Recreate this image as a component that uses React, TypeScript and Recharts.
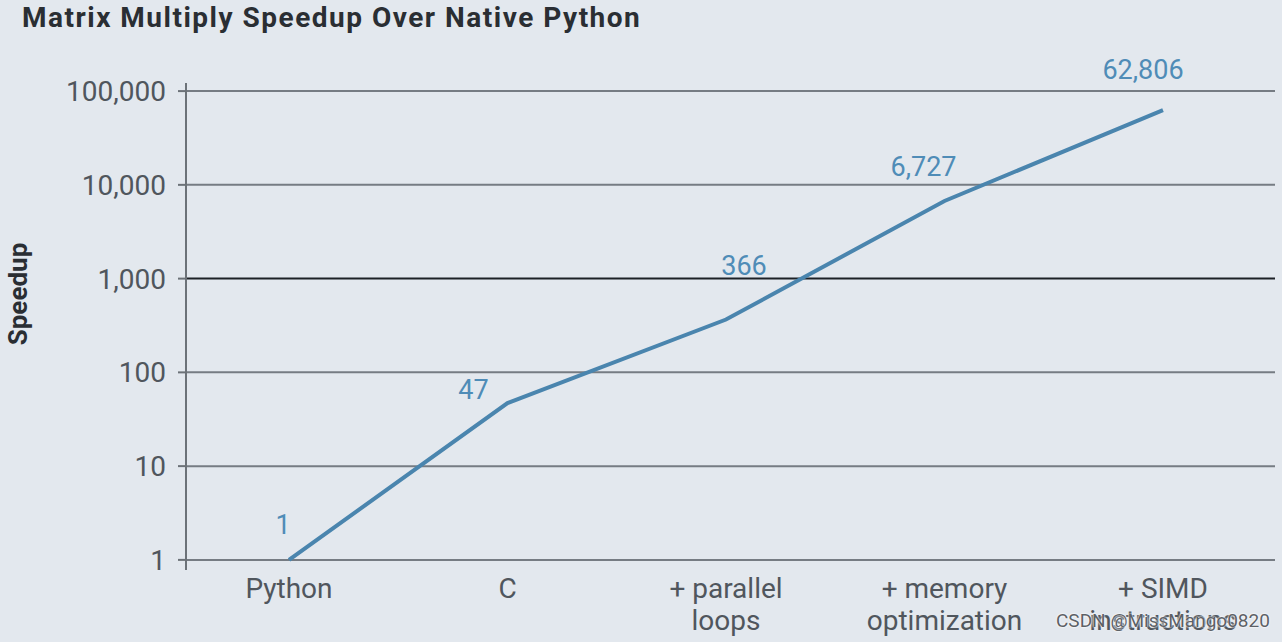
import { LabelList, Line, LineChart, ReferenceLine, XAxis, YAxis } from "recharts";

const categories = ["Python", "C", "+ parallel\nloops", "+ memory\noptimization", "+ SIMD\ninstructions"];
const speedup = [1, 47, 366, 6727, 62806];
const yTicks = [1, 10, 100, 1000, 10000, 100000];

const data = categories.map((name, i) => ({ name, speedup: speedup[i] }));

// hand-placed label nudges (dx, dy) so labels sit where the original has them
const labelNudge = [[-6, -35], [-34, -13], [18, -54], [-21, -34], [-20, -40]];

const font = "Roboto, 'DejaVu Sans', sans-serif";
const bg = "#e3e8ee";
const blue = "#4a85ae";

const fmt = (v: number) => v.toLocaleString("en-US");

const PointLabel = (props: any) => {
  const { x, y, value, index } = props;
  const [dx, dy] = labelNudge[index] ?? [0, -30];
  return (
    <text x={x + dx} y={y + dy} textAnchor="middle" dominantBaseline="central" fill="#4f8cb7" fontSize={27} fontFamily={font}>
      {fmt(value)}
    </text>
  );
};

const CategoryTick = ({ x, y, payload }: any) => {
  const lines = String(payload.value).split("\n");
  return (
    <text x={x} y={y} textAnchor="middle" fill="#50565d" fontSize={28} fontFamily={font}>
      {lines.map((line, i) => <tspan key={i} x={x} dy={i === 0 ? 20 : 32}>{line}</tspan>)}
    </text>
  );
};

export default function App() {
  return (
    <div style={{ position: "relative", width: 1282, height: 642, background: bg, overflow: "hidden", fontFamily: font }}>
      <style>{"body{margin:0}"}</style>
      <div style={{ position: "absolute", left: 22, top: 0, fontSize: 28, lineHeight: "36px", fontWeight: 700, color: "#2a2e33", letterSpacing: 1.5 }}>
        Matrix Multiply Speedup Over Native Python
      </div>
      <div style={{ position: "absolute", left: 18, top: 294, transform: "translate(-50%, -50%) rotate(-90deg)", fontSize: 26, fontWeight: 700, color: "#2a2e33", whiteSpace: "nowrap" }}>
        Speedup
      </div>
      <LineChart width={1282} height={642} data={data} margin={{ top: 83, right: 7, bottom: 0, left: 0 }} style={{ position: "absolute", left: 0, top: 0 }}>
        <XAxis dataKey="name" scale="point" height={72} padding={{ left: 103, right: 112 }} axisLine={false} tickLine={false} interval={0} tick={<CategoryTick />} />
        <YAxis
          scale="log"
          domain={[0.78, 122000]}
          ticks={yTicks}
          allowDataOverflow
          width={186}
          tickSize={8}
          tickMargin={12}
          tickFormatter={fmt}
          axisLine={{ stroke: "#6c7278", strokeWidth: 2 }}
          tickLine={{ stroke: "#6c7278", strokeWidth: 2 }}
          tick={{ fill: "#50565d", fontSize: 28, fontFamily: font }}
        />
        {yTicks.map((t) => (
          <ReferenceLine key={t} y={t} stroke={t === 1000 ? "#1d2126" : "#767c83"} strokeWidth={2} />
        ))}
        <Line type="linear" dataKey="speedup" stroke={blue} strokeWidth={4} dot={false} isAnimationActive={false}>
          <LabelList dataKey="speedup" content={<PointLabel />} />
        </Line>
      </LineChart>
      <div style={{ position: "absolute", left: 1056, top: 609, fontSize: 19, color: "#5d6166", textShadow: "0 0 2px #fff, 0 0 2px #fff", whiteSpace: "nowrap" }}>
        CSDN @MissMango0820
      </div>
    </div>
  );
}
